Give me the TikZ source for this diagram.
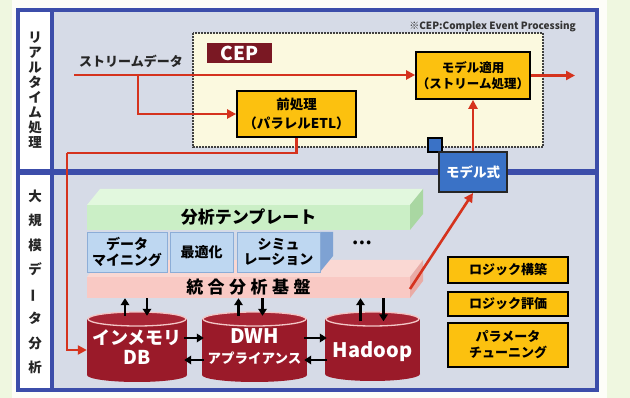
\documentclass[tikz,border=0pt]{standalone}
\usepackage{fontspec}
\usepackage{graphicx}
\setmainfont{Noto Sans CJK JP}
\usetikzlibrary{arrows.meta,calc}

\definecolor{bggreen}{HTML}{EFF7E0}
\definecolor{paper}{HTML}{FDFDF8}
\definecolor{framebl}{HTML}{3C4DAA}
\definecolor{panel}{HTML}{D6DBE7}
\definecolor{cepfill}{HTML}{FBF9DF}
\definecolor{cepred}{HTML}{7A1823}
\definecolor{arrred}{HTML}{D5331E}
\definecolor{byellow}{HTML}{FCC10F}
\definecolor{mblue}{HTML}{3A72C6}
\definecolor{gfront}{HTML}{CBEFC6}
\definecolor{gtop}{HTML}{E2F8DE}
\definecolor{gside}{HTML}{A9D7A2}
\definecolor{pfront}{HTML}{F9C9C4}
\definecolor{ptop}{HTML}{FAD8D3}
\definecolor{pside}{HTML}{E9ABA5}
\definecolor{bfront}{HTML}{BED7F1}
\definecolor{bedge}{HTML}{8CADD7}
\definecolor{bside}{HTML}{7EA2D3}
\definecolor{cylbody}{HTML}{9A1A29}
\definecolor{cyltop}{HTML}{A82535}
\definecolor{cylrim}{HTML}{F3C6C6}

\newcommand\drawcyl[4]{% x1 x2 ytop ybot
  \pgfmathsetmacro\cx{(#1+#2)/2}%
  \pgfmathsetmacro\rx{(#2-#1)/2}%
  \fill[cylbody] (#1,#3+7) rectangle (#2,#4-7);
  \fill[cylbody] (\cx,#4-7) ellipse[x radius=\rx,y radius=7];
  \filldraw[fill=cyltop,draw=cylrim,line width=1.3pt] (\cx,#3+7) ellipse[x radius=\rx-1,y radius=7];
}

\begin{document}
\begin{tikzpicture}[x=1pt,y=-1pt,
  redline/.style={draw=arrred,line width=2.6pt},
  redarrow/.style={redline,-{Triangle[length=9pt,width=9pt]}},
  blkarrow/.style={draw=black,line width=2.2pt,-{Triangle[length=7pt,width=8.5pt]}},
  ybox/.style={draw=black,line width=1.7pt,fill=byellow,align=center,inner sep=0pt,font=\bfseries\fontsize{13}{16}\selectfont},
  bluebox/.style={draw=bedge,line width=0.8pt,fill=bfront,align=center,inner sep=0pt,font=\bfseries\fontsize{14}{15.5}\selectfont},
  vlabel/.style={align=center,inner sep=0pt,text=black!85},
  cyltext/.style={align=center,inner sep=0pt,text=white,font=\bfseries\fontsize{18}{20}\selectfont},
  framel/.style={draw=framebl,line width=4pt},
]
\useasboundingbox (0,0) rectangle (630,398);
% background
\fill[bggreen] (0,0) rectangle (630,398);
\fill[paper] (12,0) rectangle (607,398);
% panels
\fill[panel] (18,10) rectangle (597,390);
\fill[white] (18,10) rectangle (52,390);
\draw[framel] (18,10) rectangle (597,390);
\draw[framel] (52,10) -- (52,390);
\draw[draw=framebl,line width=6pt] (18,172) -- (597,172);

% vertical labels
\node[vlabel,font=\bfseries\fontsize{13.5}{15}\selectfont] (rt) at (35,90) {リ\\ア\\ル\\タ\\イ\\ム\\処\\理};
\node[vlabel,font=\bfseries\fontsize{13.5}{24.5}\selectfont] (bd) at (35,282) {大\\規\\模\\デ\\\rotatebox[origin=c]{90}{ー}\\タ\\分\\析};

% CEP area
\filldraw[fill=cepfill,draw=black!75,line width=1.5pt,dash pattern=on 2pt off 1pt] (193,33) rectangle (543,147);
\node[anchor=east,inner sep=0pt,font=\bfseries\fontsize{10}{11}\selectfont,text=black!80] (note) at (576,27) {※CEP:Complex Event Processing};
\node[fill=cepred,text=white,minimum width=65pt,minimum height=20pt,inner sep=0pt,font=\bfseries\fontsize{19}{19}\selectfont] (cep) at (239.5,53) {CEP};

\node[inner sep=0pt,font=\bfseries\fontsize{13}{14}\selectfont,text=black!85] (stream) at (131,61) {ストリームデータ};
\coordinate (s0) at (74,75);
\coordinate (br) at (138,75);
\coordinate (out) at (575,75.5);

\node[ybox,minimum width=119pt,minimum height=46pt,font=\bfseries\fontsize{13.5}{19}\selectfont] (pre) at (296.5,114) {前処理\\（パラレルETL）};
\node[ybox,minimum width=114pt,minimum height=47pt,font=\bfseries\fontsize{12.5}{16}\selectfont] (apply) at (473,75.5) {モデル適用\\（ストリーム処理）};

% stream arrows
\draw[redarrow] (s0) -- (s0 -| apply.west);
\draw[redarrow] (br) |- (pre.west);
\draw[redarrow] (apply.east) -- (out);

% 3D template bar
\fill[gtop] (87,205) -- (100,189) -- (423,189) -- (410,205) -- cycle;
\fill[gside] (410,205) -- (423,189) -- (423,214) -- (410,230) -- cycle;
\node[fill=gfront,minimum width=323pt,minimum height=25pt,inner sep=0pt,font=\bfseries\fontsize{17}{18}\selectfont] (tmpl) at (248.5,217.5) {分析テンプレート};

% base bar
\fill[ptop] (87,277) -- (100,260) -- (423,260) -- (410,277) -- cycle;
\fill[pside] (410,277) -- (423,260) -- (423,281) -- (410,298) -- cycle;
\node[fill=pfront,minimum width=323pt,minimum height=21pt,inner sep=0pt,font=\bfseries\fontsize{17}{18}\selectfont] (base) at (248.5,287.5) {統\hspace{4.5pt}合\hspace{4.5pt}分\hspace{4.5pt}析\hspace{4.5pt}基\hspace{4.5pt}盤};

% blue boxes
\fill[bside] (320,272) -- (333,256) -- (333,232) -- (320,232) -- cycle;
\node[bluebox,minimum width=80pt,minimum height=40pt] (dm) at (127,252) {データ\\マイニング};
\node[bluebox,minimum width=63pt,minimum height=40pt] (opt) at (201.5,252) {最適化};
\node[bluebox,minimum width=83pt,minimum height=40pt] (sim) at (278.5,252) {シミュ\\レーション};
\node[inner sep=0pt,font=\bfseries\fontsize{12}{12}\selectfont] (dots) at (362,244) {•\hspace{2pt}•\hspace{2pt}•};

% cylinders
\drawcyl{87}{187}{312}{382}
\drawcyl{202}{307}{312}{382}
\drawcyl{325}{420}{312}{381}
\node[cyltext,minimum width=100pt,minimum height=70pt] (db) at (137,347) {\fontsize{18}{21}\selectfont インメモリ\\\fontsize{19}{21}\selectfont DB};
\node[cyltext,minimum width=105pt,minimum height=70pt] (dwh) at (254.5,347) {\fontsize{20}{21}\selectfont DWH\\\fontsize{13.5}{21}\selectfont アプライアンス};
\node[cyltext,minimum width=95pt,minimum height=69pt,font=\bfseries\fontsize{20}{20}\selectfont] (hd) at (372.5,352) {Hadoop};

% arrows base <-> cylinders
\foreach \c/\u/\d in {db/-12/10, dwh/-16/8, hd/-12/11}{
  \coordinate (u\c) at ($(\c.north)+(\u,4)$);
  \coordinate (d\c) at ($(\c.north)+(\d,4)$);
  \draw[blkarrow] (u\c) -- (u\c |- base.south);
  \draw[blkarrow] (d\c |- base.south) -- (d\c);
}
% arrows between cylinders
\coordinate (h1) at ($(db.east)+(-3,-9)$);
\coordinate (h2) at ($(db.east)+(-3,13)$);
\draw[blkarrow] (h1) -- ($(h1 -| dwh.west)+(2,0)$);
\draw[blkarrow] ($(h2 -| dwh.west)+(2,0)$) -- (h2);
\coordinate (h3) at ($(dwh.east)+(-3,-9)$);
\coordinate (h4) at ($(dwh.east)+(-3,13)$);
\draw[blkarrow] (h3) -- ($(h3 -| hd.west)+(2,0)$);
\draw[blkarrow] ($(h4 -| hd.west)+(2,0)$) -- (h4);

% right yellow boxes
\node[ybox,minimum width=120pt,minimum height=26pt] (lb) at (508,270) {ロジック構築};
\node[ybox,minimum width=120pt,minimum height=24pt] (le) at (508,304) {ロジック評価};
\node[ybox,minimum width=120pt,minimum height=44pt,font=\bfseries\fontsize{13}{16}\selectfont] (pt) at (508,345) {パラメータ\\チューニング};

% model formula
\node[draw=black,line width=1.3pt,fill=mblue,minimum size=14pt,inner sep=0pt] (sq) at (435,145) {};
\node[draw=black!85,line width=2pt,fill=mblue,text=white,minimum width=68pt,minimum height=40pt,inner sep=0pt,font=\bfseries\fontsize{13.5}{14}\selectfont] (model) at (473,172) {モデル式};
\draw[redarrow] (model.north) -- (apply.south);
\coordinate (bs) at (410,289);
\draw[redarrow] (bs) -- (model.south);

% ETL to in-memory DB
\coordinate (c1) at (67,153);
\coordinate (dbin) at ($(db.west)+(0,3)$);
\draw[redline] (pre.south) |- (c1);
\draw[redarrow] (c1) |- (dbin);
\end{tikzpicture}
\end{document}
